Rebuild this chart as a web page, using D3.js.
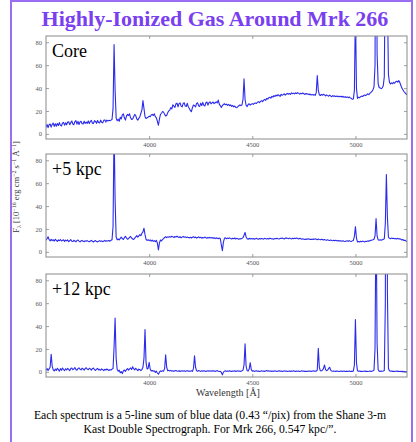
<!DOCTYPE html>
<html><head><meta charset="utf-8">
<script src="https://cdn.jsdelivr.net/npm/d3@7"></script>
<style>body{margin:0;background:#fff}svg{display:block}</style>
</head><body><svg id="c" width="416" height="442"></svg>
<script>
// ---------- DATA ----------
const titleText = "Highly-Ionized Gas Around Mrk 266";
const panelNames = ["Core", "+5 kpc", "+12 kpc"];
const xTicks = [4000, 4500, 5000];
const yTicks = [0, 20, 40, 60, 80];
const waveMin = 3500, waveMax = 5250, waveStep = 5; // sampling grid of the spectra (Å)
const captionLines = [
  "Each spectrum is a 5-line sum of blue data (0.43 \u201C/pix) from the Shane 3-m",
  "Kast Double Spectrograph. For Mrk 266, 0.547 kpc/\u201D."
];
// flux, one value per 5 Å from 3500 Å (rows of 100 Å)
const coreFlux = [
  5.8,8.2,5.4,7.9,8.6,5.9,8.3,9.4,6.5,8.9,6.6,9.1,7.2,9.8,7.4,6.9,9.5,10.0,7.6,9.6,
  7.9,10.3,10.6,8.0,9.8,11.2,8.6,8.0,10.7,11.6,8.5,10.9,8.2,10.4,11.0,8.8,8.6,11.1,9.1,10.2,
  9.2,11.3,9.0,10.9,11.8,9.3,9.0,11.5,10.9,9.2,11.7,10.0,9.5,12.0,10.1,9.6,11.8,12.2,10.3,12.0,
  11.2,11.8,11.5,12.0,12.5,22,78,38,14,11.5,12.8,11.0,14.5,13.0,16.5,17.5,14.0,12.0,15.5,17.0,
  16,17.5,14,12.5,13,15,17,16,13,12,13.5,15,18,21,29,22,15,13.5,14,14.5,
  15.5,15,16.5,17,16,17.5,15,14,11,7.5,13,17,18,19.5,19,17,15.6,16,18.5,20,
  20.8,22.9,21.8,25.4,24.2,23.2,26.3,26.8,23.7,26.4,27.0,24.2,23.6,26.6,27.2,24.3,23.9,26.7,23.5,22.2,
  20.3,19.4,23.1,25.2,24.6,23.6,26.6,27.1,24.4,24.0,26.8,24.7,27.5,24.9,24.3,27.2,27.8,25.1,27.2,28.0,
  26.2,27.1,27.8,26.4,27.2,28,27,29.5,26,24.5,23,24.8,25.6,26.3,25.4,26,24.9,25.7,24.6,25.3,
  24,24.8,23.6,24.3,23.1,22.8,23.9,24.6,25.3,24.7,25.2,30,48,30,25,23.8,25.6,26.3,25.1,25.9,
  26.4,25.7,26.8,27,26.5,27.6,28.1,27.3,28.4,29,28.2,29.5,30.1,29.3,31,30.4,31.6,32,31.2,32.8,
  32.1,33.4,32.6,33.9,33.1,34.2,33.5,32.8,34.6,33.7,34.3,35.0,33.9,34.8,35.4,34.6,35.2,34.5,35.8,35.1,
  35.6,34.9,35.9,35.2,36.0,35.4,34.7,35.5,34.9,35.7,35.1,34.4,35.3,34.6,35.0,34.2,34.8,33.9,34.5,33.8,
  34.3,33.6,36,51,38,34.2,33.5,34.4,33.8,34.6,34,33.2,34.1,33.4,32.9,33.8,33.1,32.5,33.4,32.7,
  33.2,32.5,33.1,32.4,33.0,32.3,32.9,32.2,32.8,31.9,32.5,31.8,32.3,31.6,32.2,31.4,31.0,30.2,30.5,38,
  110,40,31,32,31.6,32.4,33,32.6,33.5,34,33.4,34.3,35,34.2,35.5,36.2,37,38.5,41,60,
  300,70,44,40.5,40,39.5,40.2,42,50,160,800,120,52,45,43.6,44.5,43.8,45,44.2,45.5,
  46,45.2,46.5,45,42.5,40,38.5,37,36,35,34
];
const kpc5Flux = [
  10.2,11.5,13.2,10.8,9.6,10.9,9.8,10.6,9.4,11.0,10.1,9.2,10.4,9.7,10.8,9.5,9.9,10.6,9.1,10.3,
  9.6,10.4,8.9,9.8,10.7,9.3,9.0,10.1,9.5,8.8,9.9,10.3,9.4,8.7,9.6,10.0,9.2,8.9,9.7,9.3,
  9.8,9.1,8.8,9.5,10.0,9.2,8.6,9.4,9.9,9.0,8.7,9.3,9.8,9.1,9.6,8.9,9.4,10.0,9.2,9.7,
  9.5,9.9,9.3,10.1,10.6,22,110,45,13,10.5,11.2,10.4,11.8,12.9,11.5,10.8,12.4,13.6,12.2,11.0,
  11.5,12.6,13.4,12.1,11.3,10.9,12.0,13.0,14.2,12.8,13.9,15.0,14.1,16.2,17.5,20.6,15.0,11.0,10.0,10.6,
  9.8,10.5,9.4,10.2,9.1,9.8,8.9,10.0,7.5,1.7,8.0,10.4,9.6,10.8,11.5,12.6,13.2,12.4,13.1,12.7,
  13.3,12.8,13.6,13.1,12.5,13.4,12.9,13.7,13.0,12.6,13.2,12.3,12.9,13.5,12.7,13.1,12.4,13.0,12.6,12.2,
  12.8,12.1,12.7,13.2,12.4,12.9,12.0,12.6,13.1,12.3,12.8,11.9,12.5,12.2,12.9,12.4,11.8,12.6,12.1,12.7,
  12.0,12.5,11.8,12.3,11.6,12.2,11.9,11.4,12.1,11.5,6.0,1.0,8.5,11.8,12.3,11.4,12.0,11.6,12.2,11.7,
  11.3,11.9,11.5,12.1,11.2,11.8,11.4,10.9,11.6,11.2,11.8,12.4,14.5,17.0,13.0,11.5,11.0,11.8,11.3,11.7,
  11.2,11.6,11.0,11.5,11.9,11.3,11.0,11.6,11.2,11.7,11.4,11.1,11.8,11.5,11.2,11.7,11.3,11.9,11.6,11.2,
  11.5,11.1,11.7,11.4,11.9,11.5,11.2,11.8,11.6,12.0,11.7,11.3,11.9,12.2,11.8,11.5,12.0,11.6,11.3,11.8,
  11.4,11.9,11.6,12.1,11.7,11.3,11.8,11.5,11.0,11.4,11.1,10.8,11.3,10.9,11.5,11.2,10.7,11.1,10.8,11.3,
  10.9,11.4,11.0,10.6,11.2,10.8,10.5,11.0,10.7,10.3,10.8,10.4,10.1,10.6,10.2,9.9,10.4,10.0,9.7,10.2,
  9.8,10.1,9.6,9.9,9.4,9.8,9.5,9.2,9.7,9.3,9.0,9.5,9.6,9.2,9.8,9.3,9.1,9.6,10.0,13.5,
  22,12,8.7,9.0,8.6,9.2,8.8,9.4,9.0,8.7,9.3,9.1,9.6,9.2,9.8,10.0,10.3,10.6,11.0,14,
  29,14,10.5,10.2,10.6,10.1,10.5,10.9,11.5,25,67.5,30,13,11.8,11.5,12.0,11.6,11.9,11.4,11.7,
  11.3,11.8,11.2,11.5,11.0,10.4,10.8,9.9,10.2,9.4,9.0
];
const kpc12Flux = [
  1.5,3.0,1.2,2.6,4.0,15.4,5.0,1.8,0.8,2.5,1.2,3.1,1.9,0.6,2.8,1.4,3.3,2.0,1.1,2.7,
  1.6,3.0,2.2,1.0,2.9,3.4,1.8,2.6,3.7,2.1,1.4,2.8,3.5,2.3,1.7,3.2,2.5,1.5,2.9,3.6,
  2.4,1.8,3.1,2.6,1.5,2.8,3.3,2.0,1.2,2.4,3.0,1.7,2.2,1.4,2.6,1.9,1.1,2.3,1.6,2.5,
  1.8,1.2,2.0,1.5,2.4,3.0,22,47,12,2.0,0.5,1.5,-0.8,0.2,-1.5,0.8,1.6,0.4,1.9,2.8,
  1.5,2.6,3.4,2.0,4.5,2.8,1.6,3.1,2.2,1.0,2.4,1.8,1.2,2.0,4.0,12,37,8,2.5,3.0,
  8.4,2.5,0.8,1.2,0.5,0.9,-0.5,0.6,-1.0,-2.0,-0.3,0.8,0.4,1.0,0.6,3.0,14.8,4.0,0.9,1.3,
  0.8,1.3,0.6,1.0,0.4,0.9,1.2,0.7,0.5,1.1,0.3,0.8,1.0,0.6,0.9,0.4,0.7,1.1,0.5,0.8,
  0.6,1.0,0.4,3.0,14,4.0,0.9,0.6,1.1,0.7,0.4,0.9,0.5,1.0,0.8,0.3,0.7,1.0,0.5,0.9,
  0.6,1.0,0.5,0.9,0.4,0.8,1.1,0.6,0.3,0.5,-0.5,-2.6,-0.2,0.6,0.9,0.4,0.8,0.5,1.0,0.6,
  0.4,0.8,0.5,0.9,0.3,0.7,1.0,0.5,0.8,0.4,0.9,1.5,6.0,24.6,5.0,1.0,0.8,2.5,8.0,2.0,
  0.6,0.9,0.4,0.7,1.0,0.5,0.8,0.3,0.6,0.9,0.5,0.7,0.4,0.8,1.2,0.6,0.9,0.5,0.7,0.4,
  0.8,0.5,0.9,0.6,0.3,0.7,1.0,0.5,0.8,0.4,0.6,0.9,0.5,0.7,0.3,0.6,0.8,0.4,0.7,0.5,
  0.9,0.6,0.4,0.8,0.5,0.7,0.3,0.6,0.9,0.5,0.8,0.4,0.6,0.3,0.7,0.5,0.8,0.4,0.6,0.9,
  0.5,0.8,0.6,1.5,20.6,4.0,0.9,0.8,1.5,2.8,6.0,2.2,1.0,1.5,3.0,4.0,1.6,0.7,0.5,0.8,
  0.6,0.4,0.7,0.5,0.3,0.6,0.8,0.4,0.5,0.7,0.3,0.6,0.4,0.5,0.8,0.3,0.6,0.4,0.8,6.0,
  45.8,8.0,0.9,0.5,0.7,0.4,0.6,0.3,0.5,0.7,0.4,0.6,0.3,0.5,0.8,0.4,0.6,0.9,1.5,20,
  150,25,2.0,0.6,0.4,0.7,0.5,0.8,1.2,60,450,70,3.0,0.9,0.5,0.7,0.4,0.6,0.3,0.5,
  0.7,0.4,0.6,0.3,0.5,0.2,0.4,0.1,0.3,-0.1,0.2
];
const seriesFlux = [coreFlux, kpc5Flux, kpc12Flux];

// ---------- LAYOUT ----------
const W = 416, H = 442;
const plotLeft = 46, plotRight = 407;
const panelTops = [36, 154, 274];
const panelH = 103;
const serif = "'Liberation Serif','Times New Roman',Times,serif";

const svg = d3.select("#c");
svg.append("rect").attr("width", W).attr("height", H).attr("fill", "#fff");
svg.append("rect").attr("x", 11).attr("y", 1).attr("width", 401).attr("height", H + 10)
  .attr("fill", "none").attr("stroke", "#9a6ef2").attr("stroke-width", 2);

svg.append("text").attr("x", 215).attr("y", 26).attr("text-anchor", "middle")
  .attr("font-family", serif).attr("font-weight", "bold").attr("font-size", 22)
  .attr("fill", "#7a40f0").text(titleText);

const wave = d3.range(waveMin, waveMax + waveStep / 2, waveStep);
const x = d3.scaleLinear().domain([waveMin, waveMax]).range([plotLeft, plotRight]);

panelNames.forEach((name, i) => {
  const top = panelTops[i];
  const y = d3.scaleLinear().domain([-4.5, 85.5]).range([top + panelH, top]);
  const g = svg.append("g");
  const cid = "clip" + i;
  svg.append("clipPath").attr("id", cid).append("rect")
    .attr("x", plotLeft).attr("y", top).attr("width", plotRight - plotLeft).attr("height", panelH);

  const line = d3.line().x((d, k) => x(wave[k])).y(d => y(d));
  g.append("path").datum(seriesFlux[i]).attr("d", line)
    .attr("clip-path", `url(#${cid})`)
    .attr("fill", "none").attr("stroke", "#2b2bec").attr("stroke-width", 1.1)
    .attr("stroke-linejoin", "round");

  const styleAxis = (sel) => {
    sel.select(".domain").remove();
    sel.selectAll(".tick line").attr("stroke", "#888").attr("stroke-width", 0.8);
    sel.selectAll(".tick text").attr("fill", "#555").attr("font-family", serif).attr("font-size", 6.5);
  };
  g.append("g").attr("transform", `translate(0,${top + panelH})`)
    .call(d3.axisBottom(x).tickValues(xTicks).tickSize(-3).tickPadding(3).tickFormat(d3.format("d")))
    .call(styleAxis);
  g.append("g").attr("transform", `translate(0,${top})`)
    .call(d3.axisTop(x).tickValues(xTicks).tickSize(-3).tickFormat(""))
    .call(styleAxis);
  g.append("g").attr("transform", `translate(${plotLeft},0)`)
    .call(d3.axisLeft(y).tickValues(yTicks).tickSize(-3).tickPadding(4))
    .call(styleAxis);
  g.append("g").attr("transform", `translate(${plotRight},0)`)
    .call(d3.axisRight(y).tickValues(yTicks).tickSize(-3).tickFormat(""))
    .call(styleAxis);

  g.append("rect").attr("x", plotLeft).attr("y", top).attr("width", plotRight - plotLeft)
    .attr("height", panelH).attr("fill", "none").attr("stroke", "#8a8a8a").attr("stroke-width", 1);

  g.append("text").attr("x", 52).attr("y", top + 21).attr("font-family", serif)
    .attr("font-size", 18).attr("fill", "#000").text(name);
});

// x label
svg.append("text").attr("x", 228).attr("y", 396).attr("text-anchor", "middle")
  .attr("font-family", serif).attr("font-size", 10).attr("fill", "#333").text("Wavelength [\u00C5]");

// y label
const yl = svg.append("text").attr("transform", "translate(19,187) rotate(-90)")
  .attr("text-anchor", "middle").attr("font-family", serif).attr("font-size", 8.5).attr("fill", "#333");
const parts = [["F", 0], ["\u03BB", -1], [" [10", 0], ["\u221216", 1], [" erg cm", 0], ["\u22122", 1],
  [" s", 0], ["\u22121", 1], [" \u00C5", 0], ["\u22121", 1], ["]", 0]];
let prev = 0;
parts.forEach(([t, lvl]) => {
  const off = lvl === 1 ? -3 : lvl === -1 ? 2 : 0;
  yl.append("tspan").attr("dy", off - prev).attr("font-size", lvl === 0 ? 8.5 : 6).text(t);
  prev = off;
});

// caption
captionLines.forEach((t, k) => {
  svg.append("text").attr("x", 210).attr("y", 419 + k * 13.5).attr("text-anchor", "middle")
    .attr("font-family", serif).attr("font-size", 11.7).attr("fill", "#000").text(t);
});
</script></body></html>
